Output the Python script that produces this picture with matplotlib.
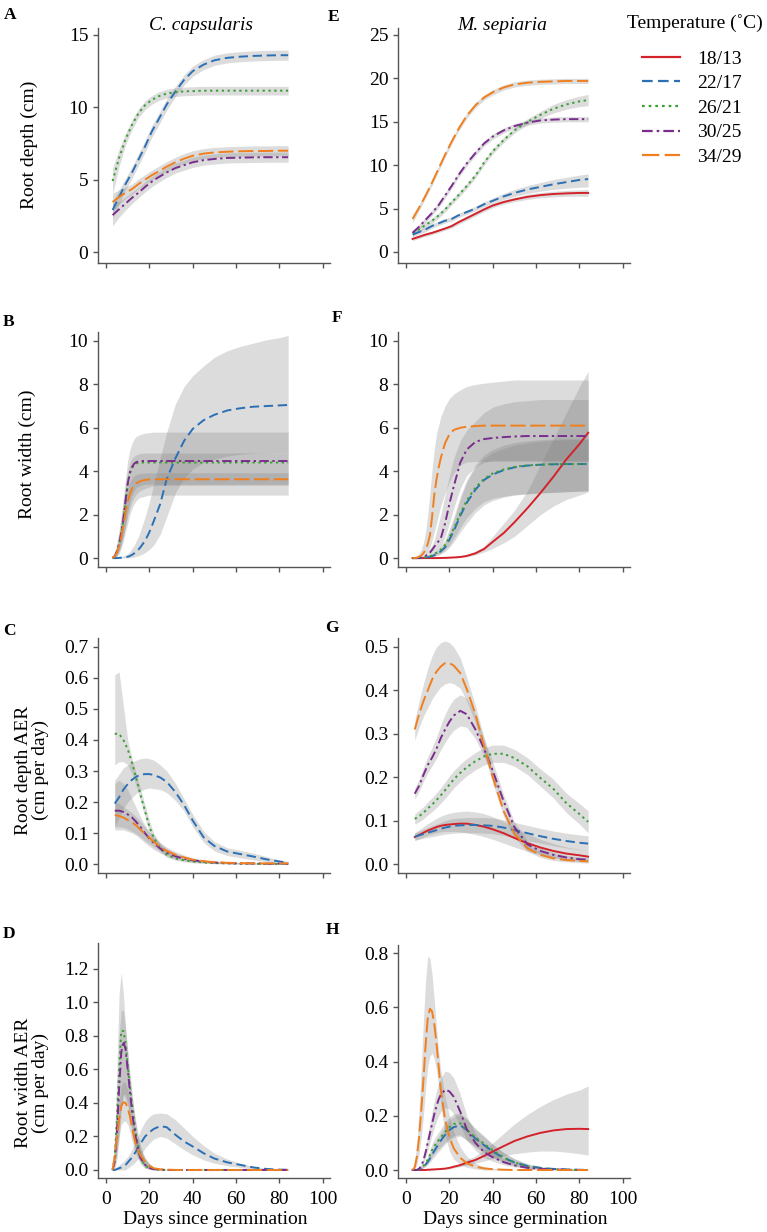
import matplotlib.pyplot as plt
from matplotlib.lines import Line2D
from matplotlib.ticker import FormatStrFormatter

plt.rcParams['font.family'] = ['Liberation Serif', 'DejaVu Serif']

# temperature treatments
temps = ['18/13', '22/17', '26/21', '30/25', '34/29']
colors = ['#d3222a', '#2b70b5', '#3a9f35', '#7b2d8d', '#f07f1e']
styles = ['-', (0, (4.8, 2.4)), (0, (1.2, 1.8)), (0, (4.8, 1.8, 1.2, 1.8)), (0, (7.8, 2.4))]

# day grids
days = [3, 6, 9, 12, 15, 18, 21, 24, 28, 32, 36, 40, 45, 50, 56, 62, 68, 74, 80, 84]
days_aer = [4, 6, 8, 10, 12, 14, 16, 18, 20, 22, 25, 28, 32, 36, 40, 45, 50, 56, 62, 68, 74, 80, 84]
days_fast = [3, 4, 5, 6, 7, 8, 9, 10, 11, 12, 13, 14, 15, 16, 18, 20, 22, 25, 28, 32, 36, 40, 45, 50, 56, 62, 68, 74, 80, 84]

# A: C. capsularis root depth
a_blue = [2.9, 3.8, 4.7, 5.5, 6.4, 7.3, 8.3, 9.1, 10.2, 11.1, 11.9, 12.5, 12.95, 13.25, 13.42, 13.5, 13.55, 13.58, 13.6, 13.6]
a_blue_lo = [2.3, 3.3, 4.3, 5.1, 6.0, 6.9, 7.9, 8.7, 9.8, 10.75, 11.55, 12.15, 12.6, 12.9, 13.07, 13.15, 13.2, 13.23, 13.25, 13.25]
a_blue_hi = [3.5, 4.3, 5.1, 5.9, 6.8, 7.7, 8.7, 9.5, 10.6, 11.45, 12.25, 12.85, 13.3, 13.6, 13.77, 13.85, 13.9, 13.93, 13.95, 13.95]
a_green = [4.9, 6.5, 7.8, 8.8, 9.6, 10.15, 10.5, 10.75, 10.95, 11.05, 11.1, 11.12, 11.15, 11.15, 11.15, 11.15, 11.15, 11.15, 11.15, 11.15]
a_green_lo = [4.0, 5.9, 7.4, 8.45, 9.3, 9.85, 10.2, 10.45, 10.65, 10.75, 10.8, 10.82, 10.85, 10.85, 10.85, 10.85, 10.85, 10.85, 10.85, 10.85]
a_green_hi = [5.8, 7.1, 8.2, 9.15, 9.9, 10.45, 10.8, 11.05, 11.25, 11.35, 11.4, 11.42, 11.45, 11.45, 11.45, 11.45, 11.45, 11.45, 11.45, 11.45]
a_purple = [2.55, 2.95, 3.35, 3.75, 4.1, 4.5, 4.85, 5.15, 5.5, 5.8, 6.0, 6.2, 6.35, 6.43, 6.5, 6.52, 6.54, 6.55, 6.55, 6.55]
a_purple_lo = [1.8, 2.4, 2.9, 3.35, 3.75, 4.15, 4.5, 4.8, 5.15, 5.45, 5.65, 5.85, 6.0, 6.08, 6.15, 6.17, 6.19, 6.2, 6.2, 6.2]
a_purple_hi = [3.3, 3.5, 3.8, 4.15, 4.45, 4.85, 5.2, 5.5, 5.85, 6.15, 6.35, 6.55, 6.7, 6.78, 6.85, 6.87, 6.89, 6.9, 6.9, 6.9]
a_orange = [3.45, 3.8, 4.1, 4.35, 4.7, 5.0, 5.3, 5.55, 5.9, 6.2, 6.45, 6.65, 6.8, 6.88, 6.93, 6.96, 6.98, 6.98, 7.0, 7.0]
a_orange_lo = [2.85, 3.3, 3.7, 4.0, 4.35, 4.65, 4.95, 5.2, 5.55, 5.85, 6.1, 6.3, 6.45, 6.53, 6.58, 6.61, 6.63, 6.63, 6.65, 6.65]
a_orange_hi = [4.05, 4.3, 4.5, 4.7, 5.05, 5.35, 5.65, 5.9, 6.25, 6.55, 6.8, 7.0, 7.15, 7.23, 7.28, 7.31, 7.33, 7.33, 7.35, 7.35]

# E: M. sepiaria root depth
e_red = [1.5, 1.75, 2.0, 2.2, 2.45, 2.7, 2.98, 3.4, 3.9, 4.4, 4.9, 5.35, 5.75, 6.05, 6.35, 6.55, 6.68, 6.75, 6.8, 6.8]
e_red_lo = [1.3, 1.55, 1.8, 2.0, 2.25, 2.5, 2.75, 3.15, 3.65, 4.15, 4.65, 5.1, 5.5, 5.8, 6.05, 6.25, 6.35, 6.4, 6.42, 6.42]
e_red_hi = [1.7, 1.95, 2.2, 2.4, 2.65, 2.9, 3.2, 3.65, 4.15, 4.65, 5.15, 5.6, 6.0, 6.3, 6.65, 6.85, 7.0, 7.1, 7.15, 7.2]
e_blue = [2.0, 2.3, 2.6, 3.0, 3.3, 3.6, 3.8, 4.2, 4.6, 5.0, 5.5, 5.9, 6.4, 6.8, 7.2, 7.5, 7.8, 8.05, 8.3, 8.4]
e_blue_lo = [1.75, 2.05, 2.35, 2.75, 3.05, 3.35, 3.55, 3.95, 4.35, 4.75, 5.2, 5.6, 6.05, 6.4, 6.75, 7.0, 7.2, 7.35, 7.45, 7.5]
e_blue_hi = [2.25, 2.55, 2.85, 3.25, 3.55, 3.85, 4.05, 4.45, 4.85, 5.25, 5.8, 6.2, 6.75, 7.2, 7.65, 8.0, 8.35, 8.6, 8.85, 9.0]
e_green = [2.2, 2.6, 3.1, 3.6, 4.2, 4.9, 5.7, 6.5, 7.6, 8.8, 10.3, 11.6, 12.9, 14.0, 15.0, 15.8, 16.5, 17.0, 17.35, 17.5]
e_green_lo = [1.9, 2.3, 2.8, 3.3, 3.9, 4.6, 5.4, 6.2, 7.3, 8.5, 10.0, 11.3, 12.6, 13.7, 14.65, 15.4, 16.0, 16.45, 16.75, 16.85]
e_green_hi = [2.5, 2.9, 3.4, 3.9, 4.5, 5.2, 6.0, 6.8, 7.9, 9.1, 10.6, 11.9, 13.2, 14.3, 15.35, 16.2, 17.0, 17.55, 17.95, 18.15]
e_purple = [2.2, 2.9, 3.7, 4.5, 5.4, 6.5, 7.6, 8.8, 10.2, 11.4, 12.5, 13.3, 14.0, 14.5, 14.9, 15.15, 15.25, 15.3, 15.3, 15.3]
e_purple_lo = [1.9, 2.6, 3.4, 4.2, 5.1, 6.2, 7.3, 8.5, 9.9, 11.1, 12.2, 13.0, 13.7, 14.2, 14.6, 14.85, 14.95, 15.0, 15.0, 15.0]
e_purple_hi = [2.5, 3.2, 4.0, 4.8, 5.7, 6.8, 7.9, 9.1, 10.5, 11.7, 12.8, 13.6, 14.3, 14.8, 15.2, 15.45, 15.55, 15.6, 15.6, 15.6]
e_orange = [3.8, 5.1, 6.5, 8.0, 9.6, 11.2, 12.7, 14.1, 15.7, 16.9, 17.8, 18.4, 18.95, 19.3, 19.5, 19.6, 19.65, 19.7, 19.7, 19.7]
e_orange_lo = [3.4, 4.75, 6.2, 7.7, 9.3, 10.9, 12.4, 13.8, 15.4, 16.6, 17.5, 18.1, 18.65, 19.0, 19.2, 19.3, 19.35, 19.4, 19.4, 19.4]
e_orange_hi = [4.2, 5.45, 6.8, 8.3, 9.9, 11.5, 13.0, 14.4, 16.0, 17.2, 18.1, 18.7, 19.25, 19.6, 19.8, 19.9, 19.95, 20.0, 20.0, 20.0]

# B: C. capsularis root width
b_blue = [0.0, 0.0, 0.0, 0.01, 0.02, 0.03, 0.04, 0.06, 0.1, 0.15, 0.22, 0.3, 0.4, 0.52, 0.8, 1.2, 1.7, 2.5, 3.65, 4.6, 5.4, 5.95, 6.35, 6.6, 6.8, 6.9, 6.97, 7.0, 7.03, 7.05]
b_blue_lo = [0, 0, 0, 0, 0, 0, 0, 0.01, 0.02, 0.03, 0.05, 0.08, 0.1, 0.15, 0.25, 0.4, 0.6, 1.1, 1.9, 3.0, 3.7, 4.1, 4.4, 4.55, 4.7, 4.78, 4.82, 4.84, 4.85, 4.85]
b_blue_hi = [0, 0.01, 0.02, 0.04, 0.06, 0.1, 0.15, 0.2, 0.3, 0.45, 0.6, 0.8, 1.0, 1.3, 1.9, 2.6, 3.4, 4.6, 5.8, 7.1, 7.9, 8.4, 8.85, 9.25, 9.55, 9.75, 9.9, 10.05, 10.15, 10.25]
b_green = [0.0, 0.1, 0.3, 0.65, 1.15, 1.75, 2.6, 3.4, 3.9, 4.15, 4.3, 4.36, 4.4, 4.4, 4.4, 4.4, 4.4, 4.4, 4.4, 4.4, 4.4, 4.4, 4.4, 4.4, 4.4, 4.4, 4.4, 4.4, 4.4, 4.4]
b_green_lo = [0, 0.02, 0.08, 0.2, 0.45, 0.8, 1.2, 1.6, 2.0, 2.3, 2.5, 2.65, 2.75, 2.8, 2.85, 2.9, 2.9, 2.9, 2.9, 2.9, 2.9, 2.9, 2.9, 2.9, 2.9, 2.9, 2.9, 2.9, 2.9, 2.9]
b_green_hi = [0.05, 0.2, 0.55, 1.1, 1.8, 2.6, 3.4, 4.0, 4.4, 4.6, 4.7, 4.75, 4.8, 4.82, 4.84, 4.84, 4.84, 4.84, 4.84, 4.84, 4.84, 4.84, 4.84, 4.84, 4.84, 4.84, 4.84, 4.84, 4.84, 4.84]
b_purple = [0.0, 0.1, 0.3, 0.65, 1.15, 1.8, 2.65, 3.45, 3.95, 4.2, 4.35, 4.42, 4.45, 4.47, 4.47, 4.47, 4.47, 4.47, 4.47, 4.47, 4.47, 4.47, 4.47, 4.47, 4.47, 4.47, 4.47, 4.47, 4.47, 4.47]
b_purple_lo = [0, 0.02, 0.1, 0.3, 0.6, 1.0, 1.5, 2.1, 2.6, 2.9, 3.1, 3.25, 3.3, 3.35, 3.4, 3.4, 3.4, 3.4, 3.4, 3.4, 3.4, 3.4, 3.4, 3.4, 3.4, 3.4, 3.4, 3.4, 3.4, 3.4]
b_purple_hi = [0.05, 0.3, 0.7, 1.3, 2.0, 2.8, 3.7, 4.5, 5.0, 5.3, 5.5, 5.6, 5.65, 5.7, 5.75, 5.78, 5.8, 5.8, 5.8, 5.8, 5.8, 5.8, 5.8, 5.8, 5.8, 5.8, 5.8, 5.8, 5.8, 5.8]
b_orange = [0.0, 0.08, 0.25, 0.55, 0.95, 1.5, 2.1, 2.6, 2.95, 3.2, 3.35, 3.45, 3.5, 3.55, 3.6, 3.62, 3.63, 3.63, 3.63, 3.63, 3.63, 3.63, 3.63, 3.63, 3.63, 3.63, 3.63, 3.63, 3.63, 3.63]
b_orange_lo = [0, 0.04, 0.15, 0.35, 0.65, 1.05, 1.5, 1.95, 2.3, 2.6, 2.8, 2.95, 3.05, 3.12, 3.2, 3.28, 3.33, 3.35, 3.35, 3.35, 3.35, 3.35, 3.35, 3.35, 3.35, 3.35, 3.35, 3.35, 3.35, 3.35]
b_orange_hi = [0, 0.12, 0.35, 0.75, 1.25, 1.95, 2.7, 3.2, 3.5, 3.7, 3.8, 3.85, 3.88, 3.9, 3.92, 3.93, 3.93, 3.93, 3.93, 3.93, 3.93, 3.93, 3.93, 3.93, 3.93, 3.93, 3.93, 3.93, 3.93, 3.93]

# F: M. sepiaria root width
f_red = [0, 0, 0, 0, 0, 0, 0, 0, 0, 0, 0, 0, 0.005, 0.005, 0.01, 0.02, 0.03, 0.05, 0.1, 0.22, 0.42, 0.75, 1.15, 1.65, 2.3, 3.0, 3.75, 4.55, 5.25, 5.77]
f_red_lo = [0, 0, 0, 0, 0, 0, 0, 0, 0, 0, 0, 0, 0, 0, 0, 0.01, 0.015, 0.03, 0.06, 0.14, 0.28, 0.45, 0.7, 1.0, 1.5, 2.0, 2.4, 2.7, 2.9, 3.05]
f_red_hi = [0, 0, 0, 0, 0, 0, 0, 0, 0, 0.01, 0.01, 0.01, 0.01, 0.015, 0.02, 0.04, 0.06, 0.09, 0.17, 0.32, 0.55, 1.0, 1.6, 2.2, 3.1, 4.3, 5.5, 6.7, 7.9, 8.6]
f_blue = [0, 0, 0, 0, 0, 0.01, 0.02, 0.04, 0.06, 0.09, 0.13, 0.18, 0.24, 0.31, 0.5, 0.85, 1.25, 1.95, 2.55, 3.15, 3.6, 3.85, 4.05, 4.18, 4.26, 4.3, 4.32, 4.33, 4.33, 4.33]
f_blue_lo = [0, 0, 0, 0, 0, 0, 0.01, 0.02, 0.03, 0.05, 0.07, 0.1, 0.14, 0.18, 0.3, 0.5, 0.75, 1.2, 1.6, 2.1, 2.45, 2.65, 2.8, 2.9, 2.95, 3.0, 3.02, 3.05, 3.08, 3.1]
f_blue_hi = [0, 0, 0, 0, 0.01, 0.02, 0.04, 0.07, 0.1, 0.15, 0.21, 0.28, 0.36, 0.45, 0.72, 1.2, 1.75, 2.7, 3.5, 4.2, 4.6, 4.85, 5.05, 5.2, 5.3, 5.38, 5.42, 5.45, 5.45, 5.45]
f_green = [0, 0, 0, 0, 0.01, 0.02, 0.04, 0.06, 0.09, 0.13, 0.18, 0.24, 0.3, 0.38, 0.6, 0.95, 1.35, 2.05, 2.65, 3.25, 3.65, 3.9, 4.08, 4.2, 4.27, 4.3, 4.33, 4.33, 4.33, 4.33]
f_green_lo = [0, 0, 0, 0, 0, 0.01, 0.02, 0.03, 0.05, 0.07, 0.1, 0.14, 0.18, 0.23, 0.38, 0.6, 0.9, 1.4, 1.85, 2.3, 2.6, 2.75, 2.85, 2.92, 2.97, 3.0, 3.03, 3.06, 3.08, 3.1]
f_green_hi = [0, 0, 0, 0.01, 0.02, 0.04, 0.07, 0.1, 0.14, 0.2, 0.27, 0.35, 0.44, 0.55, 0.85, 1.35, 1.9, 2.85, 3.6, 4.3, 4.75, 5.0, 5.2, 5.32, 5.4, 5.45, 5.48, 5.5, 5.5, 5.5]
f_purple = [0, 0, 0, 0.01, 0.03, 0.06, 0.1, 0.16, 0.25, 0.38, 0.52, 0.65, 0.78, 0.9, 1.6, 2.5, 3.3, 4.4, 5.0, 5.35, 5.48, 5.53, 5.57, 5.6, 5.62, 5.62, 5.62, 5.62, 5.62, 5.62]
f_purple_lo = [0, 0, 0, 0, 0.01, 0.02, 0.04, 0.07, 0.1, 0.15, 0.22, 0.3, 0.4, 0.5, 1.0, 1.6, 2.3, 3.2, 3.8, 4.2, 4.4, 4.5, 4.5, 4.5, 4.5, 4.5, 4.5, 4.5, 4.5, 4.5]
f_purple_hi = [0, 0, 0.01, 0.03, 0.06, 0.12, 0.2, 0.3, 0.45, 0.6, 0.85, 1.2, 1.6, 2.0, 2.9, 3.8, 4.6, 5.4, 5.9, 6.3, 6.7, 6.95, 7.1, 7.2, 7.25, 7.3, 7.3, 7.3, 7.3, 7.3]
f_orange = [0, 0, 0.02, 0.06, 0.12, 0.22, 0.38, 0.65, 1.05, 1.9, 2.9, 3.6, 4.15, 4.6, 5.3, 5.7, 5.9, 6.0, 6.05, 6.08, 6.1, 6.1, 6.1, 6.1, 6.1, 6.1, 6.1, 6.1, 6.1, 6.1]
f_orange_lo = [0, 0, 0, 0.02, 0.05, 0.1, 0.18, 0.3, 0.5, 0.8, 1.2, 1.6, 2.0, 2.4, 3.0, 3.5, 3.9, 4.3, 4.42, 4.45, 4.45, 4.45, 4.45, 4.45, 4.45, 4.45, 4.45, 4.45, 4.45, 4.45]
f_orange_hi = [0, 0.02, 0.08, 0.2, 0.4, 0.7, 1.2, 2.0, 3.0, 4.1, 5.0, 5.7, 6.1, 6.5, 7.0, 7.35, 7.55, 7.75, 7.9, 8.0, 8.05, 8.1, 8.15, 8.2, 8.2, 8.2, 8.2, 8.2, 8.2, 8.2]

# C: C. capsularis root depth AER
c_blue = [0.195, 0.215, 0.24, 0.258, 0.272, 0.282, 0.288, 0.29, 0.29, 0.287, 0.279, 0.265, 0.232, 0.19, 0.14, 0.086, 0.058, 0.04, 0.032, 0.024, 0.015, 0.008, 0.004]
c_blue_lo = [0.12, 0.15, 0.18, 0.2, 0.215, 0.228, 0.237, 0.242, 0.245, 0.243, 0.24, 0.23, 0.205, 0.17, 0.12, 0.07, 0.042, 0.027, 0.02, 0.013, 0.007, 0.003, 0.001]
c_blue_hi = [0.27, 0.29, 0.31, 0.32, 0.33, 0.335, 0.34, 0.342, 0.34, 0.335, 0.32, 0.3, 0.26, 0.21, 0.16, 0.105, 0.072, 0.052, 0.044, 0.035, 0.024, 0.013, 0.008]
c_green = [0.42, 0.42, 0.40, 0.37, 0.325, 0.275, 0.22, 0.17, 0.12, 0.085, 0.05, 0.03, 0.018, 0.012, 0.008, 0.005, 0.003, 0.002, 0.001, 0.001, 0.0, 0.0, 0.0]
c_green_lo = [0.32, 0.33, 0.33, 0.32, 0.29, 0.25, 0.2, 0.15, 0.1, 0.07, 0.04, 0.022, 0.012, 0.007, 0.004, 0.002, 0.001, 0, 0, 0, 0, 0, 0]
c_green_hi = [0.61, 0.62, 0.51, 0.4, 0.34, 0.29, 0.24, 0.19, 0.14, 0.1, 0.065, 0.04, 0.025, 0.016, 0.011, 0.008, 0.005, 0.004, 0.003, 0.002, 0.001, 0.001, 0.001]
c_purple = [0.172, 0.172, 0.168, 0.16, 0.15, 0.135, 0.118, 0.099, 0.082, 0.068, 0.05, 0.037, 0.025, 0.017, 0.012, 0.008, 0.005, 0.003, 0.002, 0.002, 0.001, 0.001, 0.001]
c_purple_lo = [0.11, 0.11, 0.11, 0.105, 0.1, 0.092, 0.08, 0.068, 0.057, 0.047, 0.035, 0.025, 0.016, 0.01, 0.006, 0.004, 0.002, 0.001, 0, 0, 0, 0, 0]
c_purple_hi = [0.26, 0.27, 0.26, 0.24, 0.21, 0.18, 0.15, 0.125, 0.1, 0.085, 0.065, 0.05, 0.035, 0.025, 0.018, 0.012, 0.008, 0.005, 0.004, 0.003, 0.002, 0.002, 0.002]
c_orange = [0.158, 0.155, 0.15, 0.142, 0.134, 0.124, 0.11, 0.097, 0.085, 0.072, 0.055, 0.042, 0.03, 0.021, 0.014, 0.009, 0.006, 0.004, 0.003, 0.002, 0.002, 0.002, 0.002]
c_orange_lo = [0.12, 0.12, 0.118, 0.112, 0.105, 0.097, 0.086, 0.075, 0.065, 0.055, 0.042, 0.031, 0.021, 0.014, 0.009, 0.005, 0.003, 0.002, 0.001, 0.001, 0.001, 0.001, 0.001]
c_orange_hi = [0.2, 0.195, 0.185, 0.175, 0.165, 0.152, 0.136, 0.12, 0.105, 0.09, 0.07, 0.054, 0.04, 0.029, 0.02, 0.013, 0.009, 0.006, 0.005, 0.004, 0.003, 0.003, 0.003]

# G: M. sepiaria root depth AER
g_red = [0.062, 0.067, 0.072, 0.077, 0.081, 0.085, 0.088, 0.09, 0.091, 0.092, 0.093, 0.093, 0.09, 0.086, 0.08, 0.071, 0.06, 0.048, 0.038, 0.03, 0.024, 0.02, 0.017]
g_red_lo = [0.054, 0.058, 0.062, 0.066, 0.069, 0.072, 0.074, 0.075, 0.075, 0.075, 0.074, 0.072, 0.068, 0.063, 0.057, 0.048, 0.039, 0.029, 0.021, 0.015, 0.011, 0.008, 0.006]
g_red_hi = [0.072, 0.079, 0.086, 0.093, 0.099, 0.105, 0.11, 0.114, 0.117, 0.119, 0.121, 0.122, 0.12, 0.116, 0.109, 0.098, 0.085, 0.07, 0.057, 0.047, 0.039, 0.034, 0.03]
g_blue = [0.063, 0.066, 0.069, 0.072, 0.075, 0.078, 0.081, 0.084, 0.086, 0.088, 0.089, 0.09, 0.09, 0.089, 0.088, 0.084, 0.078, 0.071, 0.064, 0.058, 0.053, 0.049, 0.047]
g_blue_lo = [0.055, 0.057, 0.059, 0.061, 0.063, 0.065, 0.067, 0.069, 0.07, 0.071, 0.072, 0.072, 0.072, 0.071, 0.07, 0.066, 0.061, 0.054, 0.048, 0.042, 0.037, 0.033, 0.03]
g_blue_hi = [0.072, 0.076, 0.08, 0.084, 0.088, 0.092, 0.096, 0.1, 0.103, 0.105, 0.106, 0.107, 0.107, 0.107, 0.106, 0.102, 0.096, 0.089, 0.082, 0.076, 0.071, 0.067, 0.065]
g_green = [0.104, 0.11, 0.118, 0.128, 0.137, 0.147, 0.158, 0.17, 0.183, 0.195, 0.21, 0.223, 0.237, 0.248, 0.254, 0.254, 0.244, 0.225, 0.198, 0.173, 0.14, 0.115, 0.097]
g_green_lo = [0.092, 0.097, 0.104, 0.113, 0.121, 0.13, 0.14, 0.151, 0.163, 0.175, 0.19, 0.203, 0.217, 0.228, 0.234, 0.234, 0.225, 0.206, 0.179, 0.152, 0.118, 0.092, 0.072]
g_green_hi = [0.116, 0.123, 0.132, 0.143, 0.153, 0.164, 0.176, 0.189, 0.203, 0.215, 0.23, 0.243, 0.257, 0.268, 0.274, 0.274, 0.264, 0.245, 0.219, 0.195, 0.163, 0.139, 0.123]
g_purple = [0.162, 0.18, 0.205, 0.228, 0.245, 0.265, 0.29, 0.31, 0.328, 0.342, 0.353, 0.345, 0.31, 0.265, 0.215, 0.145, 0.085, 0.045, 0.03, 0.021, 0.015, 0.011, 0.01]
g_purple_lo = [0.15, 0.167, 0.19, 0.21, 0.226, 0.243, 0.263, 0.28, 0.296, 0.308, 0.318, 0.315, 0.288, 0.248, 0.2, 0.133, 0.075, 0.037, 0.023, 0.015, 0.01, 0.006, 0.005]
g_purple_hi = [0.175, 0.195, 0.222, 0.248, 0.268, 0.292, 0.32, 0.345, 0.365, 0.38, 0.39, 0.382, 0.345, 0.29, 0.235, 0.16, 0.097, 0.054, 0.037, 0.027, 0.02, 0.016, 0.015]
g_orange = [0.31, 0.345, 0.375, 0.40, 0.425, 0.443, 0.455, 0.463, 0.463, 0.457, 0.44, 0.403, 0.345, 0.272, 0.2, 0.122, 0.07, 0.036, 0.021, 0.013, 0.009, 0.007, 0.006]
g_orange_lo = [0.285, 0.315, 0.34, 0.36, 0.38, 0.395, 0.408, 0.415, 0.418, 0.415, 0.405, 0.375, 0.325, 0.255, 0.185, 0.11, 0.06, 0.029, 0.015, 0.008, 0.005, 0.003, 0.002]
g_orange_hi = [0.33, 0.375, 0.415, 0.45, 0.48, 0.5, 0.51, 0.514, 0.51, 0.5, 0.475, 0.43, 0.365, 0.29, 0.215, 0.135, 0.08, 0.043, 0.027, 0.018, 0.013, 0.011, 0.01]

# D: C. capsularis root width AER
d_blue = [0.0, 0.0, 0.005, 0.01, 0.015, 0.022, 0.03, 0.045, 0.06, 0.075, 0.095, 0.115, 0.14, 0.16, 0.2, 0.225, 0.245, 0.262, 0.255, 0.21, 0.17, 0.14, 0.1, 0.068, 0.045, 0.03, 0.015, 0.006, 0.002, 0.001]
d_blue_lo = [0, 0, 0, 0, 0, 0, 0, 0.01, 0.02, 0.03, 0.04, 0.055, 0.07, 0.09, 0.13, 0.16, 0.185, 0.2, 0.19, 0.155, 0.12, 0.09, 0.06, 0.04, 0.025, 0.015, 0.006, 0.002, 0.001, 0]
d_blue_hi = [0, 0.01, 0.02, 0.03, 0.04, 0.05, 0.065, 0.08, 0.1, 0.125, 0.15, 0.18, 0.21, 0.24, 0.29, 0.32, 0.335, 0.34, 0.335, 0.3, 0.25, 0.2, 0.145, 0.1, 0.065, 0.04, 0.02, 0.01, 0.004, 0.002]
d_green = [0.0, 0.08, 0.3, 0.6, 0.83, 0.83, 0.76, 0.62, 0.5, 0.39, 0.29, 0.2, 0.13, 0.07, 0.025, 0.01, 0.004, 0.001, 0, 0, 0, 0, 0, 0, 0, 0, 0, 0, 0, 0]
d_green_lo = [0, 0.02, 0.1, 0.25, 0.4, 0.45, 0.42, 0.38, 0.3, 0.22, 0.15, 0.1, 0.06, 0.035, 0.01, 0.003, 0, 0, 0, 0, 0, 0, 0, 0, 0, 0, 0, 0, 0, 0]
d_green_hi = [0, 0.2, 0.6, 1.05, 1.18, 1.05, 0.85, 0.7, 0.56, 0.45, 0.35, 0.27, 0.2, 0.14, 0.07, 0.035, 0.015, 0.005, 0, 0, 0, 0, 0, 0, 0, 0, 0, 0, 0, 0]
d_purple = [0.0, 0.05, 0.22, 0.48, 0.7, 0.77, 0.72, 0.6, 0.47, 0.35, 0.25, 0.17, 0.11, 0.07, 0.03, 0.012, 0.005, 0.002, 0, 0, 0, 0, 0, 0, 0, 0, 0, 0, 0, 0]
d_purple_lo = [0, 0.01, 0.06, 0.18, 0.35, 0.45, 0.45, 0.4, 0.33, 0.25, 0.17, 0.11, 0.07, 0.04, 0.012, 0.004, 0, 0, 0, 0, 0, 0, 0, 0, 0, 0, 0, 0, 0, 0]
d_purple_hi = [0, 0.15, 0.45, 0.8, 0.95, 0.95, 0.85, 0.72, 0.58, 0.45, 0.34, 0.25, 0.18, 0.12, 0.06, 0.03, 0.012, 0.004, 0, 0, 0, 0, 0, 0, 0, 0, 0, 0, 0, 0]
d_orange = [0.0, 0.08, 0.2, 0.3, 0.38, 0.405, 0.4, 0.37, 0.32, 0.25, 0.19, 0.14, 0.11, 0.085, 0.05, 0.025, 0.01, 0.004, 0.002, 0, 0, 0, 0, 0, 0, 0, 0, 0, 0, 0]
d_orange_lo = [0, 0.04, 0.12, 0.2, 0.27, 0.29, 0.29, 0.27, 0.23, 0.17, 0.12, 0.09, 0.065, 0.05, 0.028, 0.012, 0.004, 0.001, 0, 0, 0, 0, 0, 0, 0, 0, 0, 0, 0, 0]
d_orange_hi = [0, 0.12, 0.28, 0.4, 0.5, 0.53, 0.52, 0.48, 0.42, 0.34, 0.27, 0.2, 0.16, 0.12, 0.075, 0.04, 0.018, 0.007, 0.003, 0, 0, 0, 0, 0, 0, 0, 0, 0, 0, 0]

# H: M. sepiaria root width AER
h_red = [0, 0, 0, 0, 0, 0, 0, 0.001, 0.001, 0.002, 0.002, 0.003, 0.003, 0.004, 0.005, 0.008, 0.012, 0.018, 0.027, 0.037, 0.052, 0.068, 0.088, 0.107, 0.124, 0.137, 0.146, 0.151, 0.152, 0.151]
h_red_lo = [0, 0, 0, 0, 0, 0, 0, 0, 0, 0.001, 0.001, 0.001, 0.002, 0.002, 0.003, 0.004, 0.007, 0.012, 0.018, 0.025, 0.033, 0.042, 0.052, 0.06, 0.066, 0.07, 0.07, 0.066, 0.06, 0.055]
h_red_hi = [0, 0, 0, 0, 0, 0, 0.001, 0.002, 0.002, 0.003, 0.003, 0.004, 0.005, 0.006, 0.008, 0.012, 0.017, 0.025, 0.037, 0.052, 0.075, 0.1, 0.135, 0.17, 0.205, 0.235, 0.26, 0.28, 0.295, 0.31]
h_blue = [0, 0, 0, 0.002, 0.006, 0.012, 0.02, 0.03, 0.042, 0.056, 0.07, 0.083, 0.096, 0.108, 0.13, 0.148, 0.158, 0.165, 0.148, 0.116, 0.092, 0.068, 0.045, 0.028, 0.015, 0.008, 0.004, 0.002, 0.001, 0]
h_blue_lo = [0, 0, 0, 0, 0.003, 0.007, 0.012, 0.02, 0.028, 0.038, 0.048, 0.058, 0.068, 0.077, 0.095, 0.11, 0.12, 0.125, 0.11, 0.084, 0.064, 0.045, 0.028, 0.016, 0.007, 0.003, 0.001, 0, 0, 0]
h_blue_hi = [0, 0, 0.001, 0.004, 0.01, 0.018, 0.03, 0.043, 0.058, 0.075, 0.092, 0.108, 0.123, 0.137, 0.163, 0.185, 0.198, 0.205, 0.188, 0.15, 0.122, 0.093, 0.064, 0.042, 0.024, 0.013, 0.007, 0.003, 0.001, 0]
h_green = [0, 0, 0, 0.003, 0.008, 0.015, 0.025, 0.038, 0.055, 0.074, 0.088, 0.1, 0.11, 0.12, 0.14, 0.158, 0.17, 0.172, 0.148, 0.12, 0.097, 0.072, 0.046, 0.028, 0.013, 0.006, 0.003, 0.001, 0, 0]
h_green_lo = [0, 0, 0, 0.001, 0.004, 0.009, 0.016, 0.025, 0.037, 0.05, 0.06, 0.07, 0.078, 0.086, 0.102, 0.116, 0.127, 0.13, 0.11, 0.088, 0.07, 0.05, 0.03, 0.017, 0.007, 0.003, 0.001, 0, 0, 0]
h_green_hi = [0, 0, 0.001, 0.006, 0.013, 0.022, 0.035, 0.052, 0.073, 0.097, 0.114, 0.128, 0.14, 0.152, 0.176, 0.196, 0.208, 0.21, 0.188, 0.154, 0.126, 0.096, 0.064, 0.041, 0.021, 0.01, 0.005, 0.002, 0.001, 0]
h_purple = [0, 0, 0, 0.005, 0.015, 0.035, 0.065, 0.1, 0.135, 0.17, 0.205, 0.235, 0.26, 0.278, 0.296, 0.29, 0.27, 0.215, 0.15, 0.1, 0.066, 0.047, 0.029, 0.017, 0.008, 0.004, 0.002, 0.001, 0, 0]
h_purple_lo = [0, 0, 0, 0.003, 0.01, 0.024, 0.046, 0.072, 0.1, 0.128, 0.155, 0.18, 0.2, 0.215, 0.23, 0.225, 0.208, 0.162, 0.11, 0.072, 0.046, 0.032, 0.019, 0.011, 0.005, 0.002, 0.001, 0, 0, 0]
h_purple_hi = [0, 0, 0.001, 0.008, 0.022, 0.048, 0.088, 0.132, 0.175, 0.215, 0.255, 0.29, 0.32, 0.34, 0.365, 0.36, 0.34, 0.28, 0.2, 0.135, 0.09, 0.065, 0.042, 0.025, 0.013, 0.007, 0.003, 0.002, 0.001, 0]
h_orange = [0, 0.01, 0.05, 0.12, 0.22, 0.33, 0.46, 0.56, 0.595, 0.585, 0.54, 0.47, 0.385, 0.3, 0.185, 0.12, 0.08, 0.045, 0.025, 0.012, 0.006, 0.003, 0.001, 0, 0, 0, 0, 0, 0, 0]
h_orange_lo = [0, 0, 0.02, 0.06, 0.12, 0.2, 0.3, 0.38, 0.42, 0.43, 0.41, 0.37, 0.31, 0.24, 0.13, 0.07, 0.04, 0.02, 0.01, 0.004, 0, 0, 0, 0, 0, 0, 0, 0, 0, 0]
h_orange_hi = [0, 0.03, 0.1, 0.22, 0.38, 0.55, 0.7, 0.79, 0.78, 0.72, 0.63, 0.53, 0.44, 0.37, 0.27, 0.2, 0.14, 0.085, 0.05, 0.025, 0.012, 0.006, 0.002, 0, 0, 0, 0, 0, 0, 0]

W, H = 767, 1232
fig = plt.figure(figsize=(W / 100, H / 100), dpi=100)

AXC = '#555555'
FS = 14


def box(left, top, right, bottom):
    return [left / W, 1 - bottom / H, (right - left) / W, (bottom - top) / H]


def ftext(px, py, s, **kw):
    fig.text(px / W, 1 - py / H, s, **kw)


def panel(rect, x, series, ylim, yticks, fmt=None, xlabels=False):
    ax = fig.add_axes(rect)
    for k, mean, lo, hi in series:
        ax.fill_between(x, lo, hi, color='#808080', alpha=0.27, linewidth=0)
    for k, mean, lo, hi in series:
        ax.plot(x, mean, color=colors[k], linestyle=styles[k], linewidth=1.4)
    ax.set_xlim(-3.72, 103.3)
    ax.set_ylim(*ylim)
    ax.set_xticks([0, 20, 40, 60, 80, 100])
    ax.set_yticks(yticks)
    if fmt:
        ax.yaxis.set_major_formatter(FormatStrFormatter(fmt))
    for s in ['top', 'right']:
        ax.spines[s].set_visible(False)
    for s in ['left', 'bottom']:
        ax.spines[s].set_color(AXC)
        ax.spines[s].set_linewidth(1.0)
    ax.tick_params(direction='out', length=3.5, width=1.0, color=AXC,
                   labelsize=FS, labelcolor='black', pad=3.5)
    ax.tick_params(axis='x', labelbottom=xlabels, pad=6)
    ax.patch.set_alpha(0)
    return ax


# left column: C. capsularis
panel(box(98, 28, 330, 263), days,
      [(1, a_blue, a_blue_lo, a_blue_hi), (2, a_green, a_green_lo, a_green_hi),
       (3, a_purple, a_purple_lo, a_purple_hi), (4, a_orange, a_orange_lo, a_orange_hi)],
      (-0.76, 15.48), [0, 5, 10, 15])
panel(box(98, 332, 330, 567), days_fast,
      [(1, b_blue, b_blue_lo, b_blue_hi), (2, b_green, b_green_lo, b_green_hi),
       (3, b_purple, b_purple_lo, b_purple_hi), (4, b_orange, b_orange_lo, b_orange_hi)],
      (-0.41, 10.41), [0, 2, 4, 6, 8, 10])
panel(box(98, 638, 330, 873), days_aer,
      [(1, c_blue, c_blue_lo, c_blue_hi), (2, c_green, c_green_lo, c_green_hi),
       (3, c_purple, c_purple_lo, c_purple_hi), (4, c_orange, c_orange_lo, c_orange_hi)],
      (-0.029, 0.729), [0, 0.1, 0.2, 0.3, 0.4, 0.5, 0.6, 0.7], '%.1f')
panel(box(98, 943, 330, 1178), days_fast,
      [(1, d_blue, d_blue_lo, d_blue_hi), (2, d_green, d_green_lo, d_green_hi),
       (3, d_purple, d_purple_lo, d_purple_hi), (4, d_orange, d_orange_lo, d_orange_hi)],
      (-0.048, 1.355), [0, 0.2, 0.4, 0.6, 0.8, 1.0, 1.2], '%.1f', True)

# right column: M. sepiaria
panel(box(398, 28, 630, 263), days,
      [(0, e_red, e_red_lo, e_red_hi), (1, e_blue, e_blue_lo, e_blue_hi),
       (2, e_green, e_green_lo, e_green_hi), (3, e_purple, e_purple_lo, e_purple_hi),
       (4, e_orange, e_orange_lo, e_orange_hi)],
      (-1.27, 25.8), [0, 5, 10, 15, 20, 25])
panel(box(398, 332, 630, 567), days_fast,
      [(0, f_red, f_red_lo, f_red_hi), (1, f_blue, f_blue_lo, f_blue_hi),
       (2, f_green, f_green_lo, f_green_hi), (3, f_purple, f_purple_lo, f_purple_hi),
       (4, f_orange, f_orange_lo, f_orange_hi)],
      (-0.41, 10.41), [0, 2, 4, 6, 8, 10])
panel(box(398, 638, 630, 873), days_aer,
      [(0, g_red, g_red_lo, g_red_hi), (1, g_blue, g_blue_lo, g_blue_hi),
       (2, g_green, g_green_lo, g_green_hi), (3, g_purple, g_purple_lo, g_purple_hi),
       (4, g_orange, g_orange_lo, g_orange_hi)],
      (-0.0207, 0.5207), [0, 0.1, 0.2, 0.3, 0.4, 0.5], '%.1f')
panel(box(398, 945, 630, 1178), days_fast,
      [(0, h_red, h_red_lo, h_red_hi), (1, h_blue, h_blue_lo, h_blue_hi),
       (2, h_green, h_green_lo, h_green_hi), (3, h_purple, h_purple_lo, h_purple_hi),
       (4, h_orange, h_orange_lo, h_orange_hi)],
      (-0.0295, 0.83), [0, 0.2, 0.4, 0.6, 0.8], '%.1f', True)

# panel letters
for lab, px, py in [('A', 10, 15), ('B', 9, 322), ('C', 9, 631), ('D', 9, 934),
                    ('E', 334, 17), ('F', 337, 318), ('G', 332, 628), ('H', 332, 930)]:
    ftext(px, py, lab, fontsize=12.5, fontweight='bold', ha='center', va='center')

# titles
ftext(201, 25, 'C. capsularis', fontsize=FS, style='italic', ha='center', va='center')
ftext(502, 25, 'M. sepiaria', fontsize=FS, style='italic', ha='center', va='center')

# y labels
ftext(29, 145, 'Root depth (cm)', fontsize=FS, rotation=90, ha='center', va='center')
ftext(27, 454, 'Root width (cm)', fontsize=FS, rotation=90, ha='center', va='center')
ftext(32, 770, 'Root depth AER\n(cm per day)', fontsize=FS, rotation=90,
      ha='center', va='center', multialignment='center', linespacing=1.0)
ftext(32, 1083, 'Root width AER\n(cm per day)', fontsize=FS, rotation=90,
      ha='center', va='center', multialignment='center', linespacing=1.0)

# x labels
ftext(215, 1220, 'Days since germination', fontsize=FS, ha='center', va='center')
ftext(515, 1220, 'Days since germination', fontsize=FS, ha='center', va='center')

# legend
ftext(627, 23, 'Temperature (\u02daC)', fontsize=FS, ha='left', va='center')
handles = [Line2D([], [], color=colors[k], linestyle=styles[k], linewidth=1.6) for k in range(5)]
fig.legend(handles, temps, loc='upper left', bbox_to_anchor=(642 / W, 1 - 50 / H),
           frameon=False, fontsize=FS, handlelength=1.95, handletextpad=0.87,
           labelspacing=0.36, borderpad=0, borderaxespad=0)

fig.savefig('out.png', dpi=100)
